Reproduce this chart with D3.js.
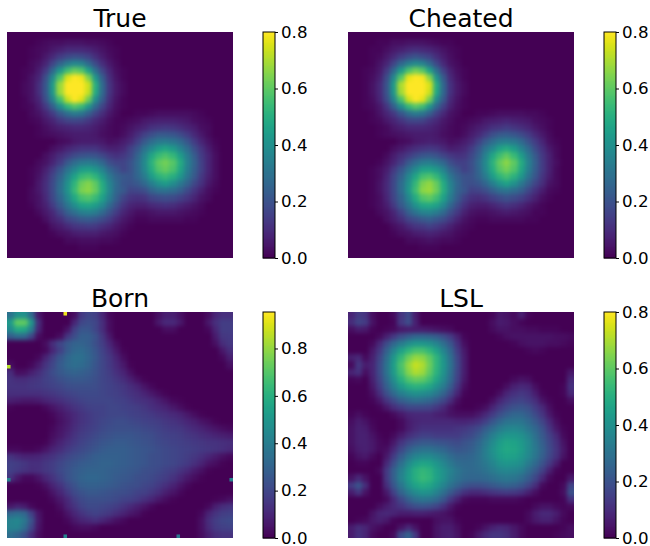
<!DOCTYPE html>
<html><head><meta charset="utf-8">
<script src="https://cdnjs.cloudflare.com/ajax/libs/d3/7.8.5/d3.min.js"></script>
<style>html,body{margin:0;background:#fff}svg{display:block}text{font-family:"DejaVu Sans",sans-serif;fill:#000}</style>
</head><body><div id="chart"></div>
<script>
// Values, hundredths, 32 x 32 cells; omitted trailing cells are zero.
const trueValues = [
[],
[0,0,0,0,1,2,3,3,4,4,4,3,3,2,1],
[0,0,0,1,2,3,5,7,9,9,9,8,6,4,2,1],
[0,0,0,1,2,5,9,14,17,19,18,15,10,6,3,1],
[0,0,0,2,4,8,16,25,33,37,35,27,18,10,5,2],
[0,0,1,2,6,13,26,42,55,61,58,45,29,16,8,3,1],
[0,0,1,4,8,19,37,58,75,82,78,64,42,23,10,4,1],
[0,0,2,4,10,21,43,68,87,96,90,74,50,27,12,5,2],
[0,0,2,4,10,21,42,68,88,94,89,73,49,27,12,5,2],
[0,0,1,4,8,19,35,56,73,80,76,62,39,23,10,4,1],
[0,0,1,2,6,13,24,39,52,58,54,42,27,16,8,3,1],
[0,0,0,2,4,8,14,22,29,33,31,24,16,10,5,2,0,0,1,1,2,3,3,3,3,3,2,1,0],
[0,0,0,1,2,5,8,13,16,17,16,13,9,6,3,1,1,2,3,5,6,7,7,7,6,5,3,2,1],
[0,0,0,0,1,3,5,7,8,9,9,8,6,4,2,1,2,4,6,8,11,12,13,12,10,8,6,3,2],
[0,0,0,0,1,2,3,4,5,6,6,6,5,3,2,1,3,6,10,15,19,22,22,21,18,14,9,5,2],
[0,0,0,0,0,0,0,2,3,5,6,6,6,5,3,4,6,9,15,22,28,32,33,31,27,21,14,8,4,1],
[0,0,0,0,0,0,3,5,8,10,12,12,12,9,7,7,9,15,21,30,37,44,47,43,35,28,19,12,6,2],
[0,0,0,0,0,3,6,10,14,18,20,21,20,17,13,11,13,17,25,35,47,54,57,53,44,33,23,14,8,3],
[0,0,0,0,2,4,8,14,22,28,32,33,31,26,19,16,16,20,27,38,51,60,63,59,49,35,25,15,8,3],
[0,0,0,1,3,7,13,21,30,37,44,45,42,35,26,21,16,20,27,37,49,58,61,57,47,34,24,15,8,3],
[0,0,0,1,4,9,16,25,36,46,54,56,52,43,32,25,22,21,26,33,44,51,54,50,42,31,22,13,7,3],
[0,0,0,1,5,10,18,28,40,52,62,65,60,49,36,27,21,20,22,27,34,40,44,39,32,25,17,11,5,2],
[0,0,0,2,5,10,18,29,41,54,64,66,61,50,37,26,22,16,17,19,25,29,30,28,24,18,12,7,3,1],
[0,0,0,2,4,9,17,26,37,48,56,58,54,45,34,24,16,12,11,12,16,18,19,18,15,12,8,4,2],
[0,0,0,1,4,7,14,22,31,39,46,47,44,37,27,19,12,8,7,7,9,10,11,10,8,6,4,2],
[0,0,0,0,2,5,9,16,24,29,34,35,33,27,20,14,8,5,3,3,4,5,5,5,4,3,2,1],
[0,0,0,0,0,3,7,10,16,19,22,23,21,18,14,9,5,3,1,1,2,2,2,2,2,1,1],
[0,0,0,0,0,0,4,6,9,12,13,14,13,10,8,5,3,1],
[0,0,0,0,0,0,1,3,4,6,7,7,7,5,4,3,1],
[0,0,0,0,0,0,0,0,2,2,3,3,3,2,2,1],
[0,0,0,0,0,0,0,0,0,0,1,1,1],
[]
];
const cheatedValues = [
[],
[0,0,0,0,1,1,3,3,4,4,4,3,2,1,1],
[0,0,0,1,1,3,5,7,9,10,9,8,6,4,2,1],
[0,0,0,1,2,5,9,14,18,20,18,15,10,6,3,1],
[0,0,0,1,4,8,16,26,34,38,35,27,17,9,4,2],
[0,0,1,2,5,13,26,43,57,63,59,46,29,15,7,3,1],
[0,0,1,3,7,18,37,59,77,84,79,65,41,22,9,4,1],
[0,0,1,4,9,20,43,70,89,97,91,75,49,26,11,5,2],
[0,0,1,4,9,20,42,69,89,95,90,74,48,26,11,5,2],
[0,0,1,3,8,18,35,57,74,82,77,63,38,22,9,4,1],
[0,0,1,2,5,12,24,39,53,59,55,42,26,15,7,3,1],
[0,0,0,1,4,8,13,21,29,33,31,24,15,9,4,2,0,0,1,1,2,3,3,3,3,2,2,1],
[0,0,0,1,2,5,8,12,16,17,16,12,9,5,3,1,1,2,3,5,6,7,8,7,6,5,3,2,1],
[0,0,0,0,1,2,5,7,9,9,9,8,6,4,2,1,2,4,6,8,11,12,14,12,10,8,5,3,1],
[0,0,0,0,1,2,3,4,5,6,6,6,5,3,2,1,3,6,9,14,19,22,23,21,18,14,9,5,2],
[0,0,0,0,0,0,0,2,3,5,6,7,6,5,3,4,6,9,15,22,28,33,34,32,27,20,14,8,3,1],
[0,0,0,0,0,0,3,5,8,10,12,13,12,9,6,7,9,14,21,30,37,45,49,44,35,27,18,11,5,2],
[0,0,0,0,0,2,6,10,14,18,21,22,20,16,13,11,12,17,24,35,47,55,60,54,44,32,22,13,7,2],
[0,0,0,0,1,4,8,14,22,28,33,34,31,26,19,15,15,19,27,38,51,61,66,60,49,35,24,14,7,3],
[0,0,0,1,3,6,13,21,30,38,45,46,43,35,25,20,15,19,26,37,49,59,63,58,47,34,23,14,7,2],
[0,0,0,1,3,8,16,25,37,47,56,58,53,43,31,24,20,20,25,33,44,52,56,51,42,30,21,12,6,2],
[0,0,0,1,4,9,17,28,40,53,64,67,61,49,35,26,20,19,21,26,34,41,46,40,32,24,16,10,4,2],
[0,0,0,1,4,9,17,28,42,55,66,68,62,50,36,25,21,15,16,19,24,29,31,28,24,17,11,6,2,1],
[0,0,0,1,3,8,16,25,37,49,58,60,55,45,33,23,15,11,10,12,15,18,20,18,15,11,7,3,1],
[0,0,0,1,3,6,13,22,31,40,47,48,45,37,26,18,11,7,6,6,8,10,12,10,8,5,3,1],
[0,0,0,0,2,4,8,15,24,30,35,36,33,27,19,13,7,4,3,3,4,5,6,5,4,3,1,1],
[0,0,0,0,0,3,6,10,16,19,22,24,21,18,13,8,4,2,1,1,2,2,2,2,2,1,1],
[0,0,0,0,0,0,3,5,9,12,13,15,13,10,7,4,2,1],
[0,0,0,0,0,0,1,3,4,6,7,8,7,5,4,2,1],
[0,0,0,0,0,0,0,0,2,2,3,4,3,2,2,1],
[0,0,0,0,0,0,0,0,0,0,1,1,1],
[]
];
const bornValues = [
[36,48,48,32,6,0,0,0,0,3,16,20,18,10,2,0,0,0,0,0,0,4,8,8,4,0,0,0,3,10,13,13],
[52,72,72,50,12,0,0,0,0,10,20,22,20,12,3,0,0,0,0,0,0,6,11,11,6,0,0,0,6,13,17,17],
[45,58,56,40,10,0,0,0,5,18,25,25,20,12,3,0,0,0,0,0,0,0,3,3,0,0,0,0,2,10,17,17],
[28,33,32,20,3,0,0,3,15,22,28,28,24,15,6,0,0,0,0,0,0,0,0,0,0,0,0,0,0,7,15,16],
[0,0,0,0,0,3,12,20,26,30,30,28,23,17,10,3,0,0,0,0,0,0,0,0,0,0,0,0,0,4,12,15],
[0,0,0,0,0,2,10,18,27,32,33,30,25,19,13,6,1,0,0,0,0,0,0,0,0,0,0,0,0,0,6,12],
[0,0,0,0,2,9,17,25,31,35,35,31,26,20,15,9,3,0,0,0,0,0,0,0,0,0,0,0,0,0,2,8],
[3,0,0,2,7,14,20,27,32,34,33,30,25,20,16,11,6,1,0,0,0,0,0,0,0,0,0,0,0,0,0,4],
[12,3,4,8,12,17,22,26,29,30,29,27,24,20,17,13,9,4],
[14,12,12,14,15,18,20,23,25,26,26,25,23,20,18,15,12,8,4,1],
[14,14,14,15,16,17,19,20,22,23,23,23,22,20,19,17,15,12,9,5,2],
[13,13,13,13,13,14,15,17,19,20,21,21,21,20,19,18,16,14,12,9,6,3,1],
[8,7,6,6,7,9,11,13,15,17,19,20,20,20,20,19,18,16,14,13,11,8,5,2,1],
[1,0,0,0,0,2,5,8,11,14,16,18,19,19,20,20,19,18,17,15,13,11,9,6,3,1],
[0,0,0,0,0,0,2,5,8,11,14,16,18,19,20,20,20,19,18,17,16,14,13,11,9,6,3,1],
[0,0,0,0,0,0,1,4,7,11,14,16,18,20,21,22,22,21,20,19,18,17,15,14,12,10,8,5,3,1],
[0,0,0,0,0,0,2,5,8,12,15,17,19,21,22,23,23,23,22,21,20,19,17,16,15,13,11,9,7,5,3,2],
[0,0,0,0,0,0,3,6,10,14,17,19,21,23,24,25,25,25,24,23,22,20,19,18,17,15,14,12,11,9,8,7],
[0,0,0,0,0,1,5,9,13,16,19,21,23,25,26,27,27,26,25,24,23,21,20,19,18,17,16,15,14,14,13,12],
[2,2,1,1,2,5,9,12,16,19,21,23,25,27,28,28,28,27,26,25,24,22,21,20,19,18,17,16,15,14,13,11],
[14,11,9,9,10,12,14,17,20,22,24,26,28,29,29,29,28,27,26,25,23,22,21,20,19,17,15,13,10,7,4,2],
[18,17,15,13,13,15,17,20,23,25,27,28,29,30,30,29,28,27,26,25,23,22,21,20,18,16,13,9,5,3,1],
[18,16,14,12,13,15,17,21,24,27,29,30,30,30,29,28,27,26,25,23,22,21,19,17,14,11,7,4,1],
[14,6,2,2,5,10,14,19,24,27,30,31,31,30,29,27,26,25,23,22,21,19,17,14,10,6,3,1],
[0,0,0,0,1,4,9,14,20,24,28,29,29,28,27,26,24,23,22,20,19,16,13,9,5,2],
[0,0,0,0,0,1,5,10,16,21,24,26,26,25,24,23,22,21,19,18,15,12,8,5,2],
[0,0,0,0,0,0,2,6,11,17,21,23,23,23,22,21,19,18,16,13,10,6,3,1,0,0,0,0,0,1,2,4],
[6,9,7,2,0,0,0,3,9,14,19,21,21,20,19,17,14,11,8,5,2,0,0,0,0,0,0,0,2,8,12,14],
[32,34,32,18,5,0,0,1,5,10,14,17,19,17,15,12,9,6,4,1,0,0,0,0,0,0,0,2,9,14,17,18],
[42,44,38,24,6,0,0,0,2,6,9,11,13,10,7,4,2,0,0,0,0,0,0,0,0,0,0,4,12,17,20,21],
[42,42,34,20,5,0,0,0,0,2,3,3,2,0,0,0,0,0,0,0,0,0,0,0,0,0,0,4,11,16,18,19],
[34,30,23,12,3,0,0,0,0,0,0,0,0,0,0,0,0,0,0,0,0,0,0,0,0,0,0,3,8,12,14,14]
];
// Born's isolated single pixels: column, row on the 64 x 64 image, value in hundredths.
const bornSpeckCols = [16, 0, 0, 63, 16, 48];
const bornSpeckRows = [0, 15, 47, 47, 63, 63];
const bornSpeckVals = [93, 85, 42, 42, 42, 38];
const lslValues = [
[8,14,12,3,0,0,2,12,18,6,0,0,0,0,0,0,0,0,0,0,1,5,4,2,7,1],
[10,16,14,4,0,0,1,13,19,7,0,0,0,0,0,0,0,0,0,0,3,6,5,3,1],
[3,6,5,1,0,1,2,5,6,6,6,5,4,3,2,0,0,0,0,0,2,4,4,3,3,2,2,1,1,1],
[0,0,0,0,2,7,13,19,23,26,26,25,23,19,14,7,1,0,0,0,0,1,3,4,4,4,4,4,4,3,3,2],
[0,0,0,2,9,18,26,33,39,42,42,40,36,29,21,11,3,0,0,0,0,0,0,1,3,4,4,4,3,3,2,1],
[0,0,0,5,13,24,35,45,52,56,56,52,46,36,26,14,5,0,0,0,0,0,0,0,0,1,2,1],
[7,9,2,7,16,28,42,53,62,67,66,60,52,41,29,16,6],
[2,13,6,8,18,30,44,57,67,73,70,62,52,42,30,17,6],
[8,11,3,8,18,30,43,55,65,70,68,60,51,41,29,16,6,0,0,0,0,0,0,0,0,0,0,0,0,0,0,5],
[1,2,0,7,16,27,39,50,58,61,60,55,47,38,27,15,5,0,0,0,0,0,0,2,4,3,0,0,0,0,0,9],
[0,0,0,5,14,24,34,43,49,51,50,47,40,33,23,12,3,0,0,0,0,0,3,7,9,8,3,0,0,0,1,11],
[0,0,0,3,10,19,27,34,38,40,39,37,32,25,17,8,1,0,0,0,0,3,8,11,13,11,6,1,0,0,1,9],
[0,0,0,1,5,12,18,24,27,29,28,26,22,17,10,3,0,0,0,0,3,8,12,15,16,14,10,4,1,0,0,3],
[0,0,0,0,1,5,10,14,17,17,17,16,13,9,4,1,0,0,1,3,8,13,17,20,21,19,14,9,3],
[1,3,1,0,0,0,2,5,8,9,9,9,7,6,4,3,3,3,5,9,14,19,23,26,26,23,18,12,5,1],
[3,6,4,1,0,0,0,2,6,8,9,9,9,9,9,8,8,9,11,15,21,26,30,31,31,27,22,16,9,3],
[4,7,6,2,0,0,0,2,6,9,11,11,11,11,11,12,13,15,18,23,28,33,36,37,35,31,26,20,12,5,1],
[4,7,7,4,1,0,2,6,10,13,15,15,14,14,14,14,16,18,22,28,34,39,42,42,40,35,29,22,15,9,2],
[4,7,7,5,2,1,5,12,17,20,22,22,21,20,19,18,20,22,26,32,38,44,47,46,43,38,31,24,17,11,4],
[3,6,7,5,2,3,9,17,24,28,30,30,28,26,23,21,22,24,28,34,40,45,48,47,44,38,32,25,18,12,5],
[1,4,5,2,0,5,14,23,31,36,38,38,35,32,28,25,25,26,29,34,39,44,46,45,42,37,31,24,17,11,4],
[0,1,1,0,0,9,19,29,38,44,47,46,42,37,32,28,27,27,29,32,36,40,42,41,39,33,27,20,13,6],
[0,0,0,0,2,13,24,34,43,50,53,51,45,40,35,31,28,27,28,30,33,36,37,36,34,28,22,15,7,1],
[4,9,4,0,0,13,24,35,44,50,54,52,46,40,34,30,27,26,26,27,29,31,32,31,28,23,17,9,2,0,0,5],
[14,21,10,0,0,10,21,31,40,46,49,47,42,36,30,25,21,19,19,20,22,24,25,24,21,16,10,2,0,0,2,16],
[6,12,4,0,0,5,15,25,33,38,41,40,35,29,22,16,11,9,9,10,12,13,14,13,11,7,3,0,0,0,3,20],
[0,0,0,0,0,2,9,17,24,29,31,30,27,21,13,7,2,1,1,1,2,2,2,2,1,0,0,0,0,0,1,11],
[0,0,0,0,3,6,9,12,16,19,20,19,16,11,5,1,0,0,0,0,0,0,0,0,0,0,2,4,4,2,1,2],
[0,0,0,4,8,9,8,6,6,7,7,6,5,4,2,0,0,0,0,0,0,0,0,0,0,2,6,9,9,6,2],
[0,1,2,5,7,5,1,0,0,0,0,0,3,4,4,1,0,0,0,0,0,0,0,0,0,2,5,7,7,4,1],
[6,10,8,4,2,0,0,4,9,4,0,0,4,6,6,3,0,0,1,4,7,9,8,5,2,0,0,0,0,0,1,3],
[6,11,8,2,0,0,2,18,25,13,0,0,4,6,7,4,0,1,5,9,12,12,10,6,2,0,0,0,0,1,2,3]
];
const panelTitles = ["True", "Cheated", "Born", "LSL"];
const panelGrids = [trueValues, cheatedValues, bornValues, lslValues];
const panelMax = [0.8, 0.8, 0.954, 0.8];
const panelLeft = [7, 348, 7, 348];
const panelTop = [32, 32, 312, 312];
const panelTicks = [[0,.2,.4,.6,.8],[0,.2,.4,.6,.8],[0,.2,.4,.6,.8],[0,.2,.4,.6,.8]];

const W = 650, H = 546, S = 226, N = 32, BAR_GAP = 30, BAR_W = 12;
const svg = d3.select("#chart").append("svg").attr("width", W).attr("height", H);
const defs = svg.append("defs");
defs.append("filter").attr("id","soft").attr("filterUnits","userSpaceOnUse")
  .attr("x",-20).attr("y",-20).attr("width",S+40).attr("height",S+40)
  .attr("color-interpolation-filters","sRGB")
  .append("feGaussianBlur").attr("stdDeviation",2.3);
defs.append("clipPath").attr("id","panelClip").append("rect").attr("width",S).attr("height",S);

const band = d3.scaleBand().domain(d3.range(N)).range([0,S]);
const fine = d3.scaleBand().domain(d3.range(64)).range([0,S]);
const PAD = 14;

panelTitles.forEach((title,i)=>{
  const color = d3.scaleSequential(d3.interpolateViridis).domain([0,panelMax[i]]).clamp(true);
  const g = svg.append("g").attr("transform",`translate(${panelLeft[i]},${panelTop[i]})`);
  g.append("text").attr("x",S/2).attr("y",-4.8).attr("text-anchor","middle").attr("font-size",25).text(title);

  const cells = [];
  panelGrids[i].forEach((row,r)=>d3.range(N).forEach(c=>cells.push({r,c,v:(row[c]||0)/100})));
  const clip = g.append("g").attr("clip-path","url(#panelClip)");
  clip.append("g").attr("filter","url(#soft)").selectAll("rect").data(cells).join("rect")
    .attr("shape-rendering","crispEdges")
    .attr("x",d=>band(d.c)-(d.c===0?PAD:0))
    .attr("y",d=>band(d.r)-(d.r===0?PAD:0))
    .attr("width",d=>band.bandwidth()+(d.c===0||d.c===N-1?PAD:0)+0.5)
    .attr("height",d=>band.bandwidth()+(d.r===0||d.r===N-1?PAD:0)+0.5)
    .attr("fill",d=>color(d.v));

  if(title==="Born"){
    clip.append("g").selectAll("rect").data(bornSpeckVals).join("rect")
      .attr("x",(d,k)=>fine(bornSpeckCols[k])).attr("y",(d,k)=>fine(bornSpeckRows[k]))
      .attr("width",fine.bandwidth()).attr("height",fine.bandwidth())
      .attr("fill",d=>color(d/100));
  }

  // colour bar
  const barX = S+BAR_GAP;
  const y = d3.scaleLinear().domain([0,panelMax[i]]).range([S,0]);
  const bar = g.append("g").attr("transform",`translate(${barX},0)`);
  bar.selectAll("rect").data(d3.range(S)).join("rect")
    .attr("x",0).attr("width",BAR_W).attr("y",d=>d).attr("height",1.5)
    .attr("fill",d=>color(y.invert(d+0.5)));
  bar.append("rect").attr("width",BAR_W).attr("height",S).attr("fill","none").attr("stroke","#000").attr("stroke-width",1);
  const axis = bar.append("g").attr("transform",`translate(${BAR_W},0)`)
    .call(d3.axisRight(y).tickValues(panelTicks[i]).tickFormat(d3.format(".1f")).tickSize(3).tickPadding(3));
  axis.select(".domain").remove();
  axis.selectAll("line").attr("stroke","#000").attr("stroke-width",1);
  axis.selectAll("text").attr("font-size",16.67).attr("font-family",'"DejaVu Sans"');
});
</script></body></html>
